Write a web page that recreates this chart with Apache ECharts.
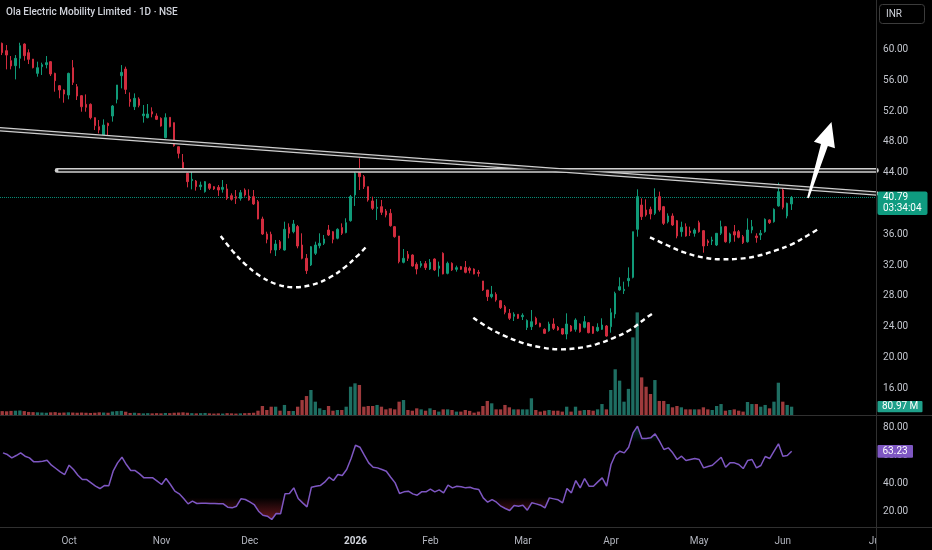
<!DOCTYPE html>
<html><head><meta charset="utf-8">
<script src="https://cdn.jsdelivr.net/npm/echarts@6/dist/echarts.min.js"></script>
<style>html,body{margin:0;padding:0;background:#000;}#c{width:932px;height:550px;}</style>
</head><body><div id="c"></div>
<script>
// [open, high, low, close] per daily bar
const candles = [
[60.80,60.90,59.28,59.59],[59.85,60.58,57.42,59.28],[58.55,59.15,57.42,57.86],[57.90,59.28,56.12,58.85],[58.85,60.88,57.55,60.50],
[60.71,60.80,58.55,59.20],[59.59,60.02,58.11,58.72],[58.76,58.76,57.55,57.64],[56.90,58.42,56.47,57.64],[57.77,58.29,56.69,58.03],
[58.03,59.15,57.55,58.29],[58.42,58.50,56.56,56.82],[56.90,56.99,54.52,55.95],[55.30,55.39,53.66,54.74],[54.74,54.82,53.09,54.22],
[54.09,56.99,53.53,56.90],[57.64,58.63,55.39,55.73],[55.17,55.52,53.44,53.96],[54.00,54.09,51.92,52.57],[52.88,54.17,51.92,52.49],
[52.88,53.00,50.93,51.15],[51.15,51.19,49.54,50.11],[49.98,50.84,49.11,49.54],[48.76,50.93,48.46,50.19],[50.41,50.50,48.59,50.11],
[51.36,52.79,50.63,52.66],[53.53,55.39,53.00,55.39],[56.60,57.98,54.95,57.03],[57.46,57.77,54.22,54.82],[53.53,54.43,52.57,53.22],
[52.57,54.30,52.14,53.66],[53.57,53.79,52.49,52.75],[51.40,52.79,50.50,51.62],[51.15,52.92,51.06,51.62],[51.92,52.49,51.19,51.62],
[51.36,51.71,50.84,50.93],[51.06,51.19,49.98,50.06],[48.55,51.71,48.46,51.15],[51.19,51.19,49.89,49.98],[50.50,50.50,47.38,47.51],
[47.38,47.38,45.86,46.51],[45.35,46.43,44.14,44.27],[43.92,44.01,42.10,42.84],[42.97,44.35,41.84,43.14],[42.92,43.05,41.67,42.19],
[42.19,42.84,41.75,42.40],[41.54,42.92,41.41,42.84],[42.53,42.62,41.75,41.97],[42.19,42.27,41.75,41.89],[42.10,42.40,40.98,41.75],
[41.84,43.05,41.41,42.10],[41.89,42.53,40.46,40.67],[41.02,41.32,40.37,40.54],[40.89,41.75,39.94,40.67],[40.67,41.75,40.37,41.41],
[41.75,41.97,40.89,41.11],[40.98,41.84,40.37,40.46],[40.89,41.75,39.81,39.94],[40.24,40.46,37.95,37.99],[37.99,38.29,35.91,36.04],
[36.04,36.34,34.83,35.35],[36.00,36.34,33.53,33.96],[33.96,35.26,33.18,34.74],[35.04,35.26,33.96,34.18],[33.96,37.64,33.88,36.65],
[36.91,37.42,35.48,36.13],[36.34,37.86,36.13,37.34],[37.00,37.21,34.18,34.48],[34.61,36.13,32.75,32.88],[32.88,33.44,30.85,31.28],
[32.02,34.48,31.88,34.39],[33.53,35.04,33.31,34.61],[34.52,36.13,34.18,34.83],[34.83,35.91,34.61,35.39],[36.56,37.21,35.78,35.91],
[36.34,36.43,34.83,35.35],[35.48,36.78,35.35,36.65],[36.87,37.42,35.91,36.13],[36.22,38.08,36.13,37.51],[37.77,41.11,37.64,40.89],
[41.11,44.27,39.68,43.92],[44.03,45.87,41.75,43.49],[43.49,43.70,41.89,42.19],[42.19,42.19,40.24,40.46],[40.33,40.89,39.16,39.37],
[39.37,40.59,37.86,39.50],[39.59,40.46,38.51,38.85],[39.03,39.29,38.20,38.51],[38.72,39.29,36.99,37.12],[36.99,37.08,35.56,35.69],
[35.78,35.78,32.23,32.45],[32.36,34.09,32.23,32.88],[33.40,33.83,32.53,32.88],[33.31,33.40,31.80,31.88],[32.10,32.36,30.80,31.49],
[31.93,32.53,31.67,32.19],[32.19,32.53,31.37,31.67],[31.49,32.79,31.37,32.36],[32.79,32.88,31.24,31.37],[31.58,32.45,30.50,31.88],
[33.53,33.66,30.80,30.85],[30.93,32.45,30.80,32.23],[32.23,32.36,31.24,31.37],[31.45,31.93,31.15,31.67],[31.80,31.88,31.37,31.45],
[31.71,32.53,30.93,31.06],[31.58,31.80,30.93,31.32],[31.49,31.58,30.80,30.85],[31.06,31.37,30.50,30.93],[29.94,29.94,28.64,28.77],
[28.77,28.77,27.34,27.90],[27.90,29.29,27.69,28.21],[28.21,28.47,27.25,27.47],[27.38,27.47,26.30,26.47],[26.60,26.82,25.61,25.87],
[25.74,26.30,24.87,25.09],[25.35,25.87,24.74,25.61],[25.61,25.61,25.00,25.09],[25.30,25.74,24.87,25.48],[23.90,24.95,23.57,24.80],
[24.00,26.17,23.57,24.65],[25.09,25.30,24.22,24.35],[24.44,24.52,23.92,24.00],[23.66,23.79,23.05,23.14],[23.48,24.65,23.35,24.35],
[24.35,25.09,23.57,23.79],[23.92,24.09,23.48,23.57],[23.74,23.83,22.96,23.05],[23.05,25.74,22.36,24.35],[24.09,24.22,23.35,23.44],
[23.66,25.09,23.35,24.87],[24.35,24.44,23.22,23.35],[23.92,25.39,23.79,24.65],[24.52,24.61,23.14,23.22],[24.00,24.09,23.05,23.14],
[23.48,24.44,23.35,23.92],[23.66,25.09,23.57,24.22],[24.09,24.22,22.70,22.79],[24.00,26.39,23.22,25.82],[25.65,28.55,25.09,28.33],
[28.77,30.41,28.68,29.20],[28.68,29.85,28.25,28.85],[29.98,31.71,29.20,30.28],[30.41,36.34,30.28,36.34],[36.65,41.84,35.69,40.89],
[39.80,40.67,37.86,38.29],[39.16,40.54,38.29,38.51],[39.24,39.59,37.94,38.64],[38.72,41.97,38.51,40.80],[40.89,41.54,38.94,39.16],
[39.59,39.68,37.21,37.42],[37.64,38.72,37.42,38.38],[38.38,38.72,37.08,37.21],[37.77,37.86,35.48,35.78],[36.34,37.64,35.69,36.91],
[36.99,37.42,35.69,35.78],[36.43,36.99,35.78,36.21],[36.13,36.78,35.69,36.56],[37.51,37.77,36.21,36.34],[36.47,36.56,33.61,34.48],
[35.13,35.35,34.48,34.91],[35.13,35.69,34.61,35.26],[34.61,36.13,34.48,36.13],[36.13,37.77,35.91,36.99],[36.99,37.08,34.91,35.04],
[35.04,36.21,34.83,36.04],[36.34,37.21,35.04,35.91],[36.34,36.56,35.48,35.61],[35.69,35.91,34.74,34.91],[35.04,38.07,34.91,36.56],
[36.56,37.86,36.13,36.99],[35.78,36.13,34.91,35.56],[35.91,36.56,35.26,36.13],[36.34,38.07,36.21,37.94],[37.86,37.94,37.34,37.51],
[37.64,39.37,37.51,39.24],[39.68,42.70,39.59,41.54],[41.75,41.97,39.24,39.50],[38.38,40.11,38.07,40.02],[39.94,40.97,39.16,40.79]
];
// volume in millions
const volumes = [
38,36,40,42,44,38,30,28,26,24,22,26,28,22,24,26,24,22,24,22,
20,22,26,24,22,34,38,40,32,20,22,18,16,18,16,18,16,20,18,22,
24,26,22,18,16,18,20,16,14,16,14,18,16,14,16,18,20,22,42,88,
49,81,81,42,98,39,39,81,146,185,244,130,65,49,88,42,49,49,81,276,
309,293,81,88,88,98,81,55,65,55,130,146,49,42,65,55,42,65,49,33,
55,55,49,33,33,49,40,23,33,88,137,114,55,55,98,75,55,55,55,55,
163,49,33,42,49,42,42,33,81,33,81,42,49,49,42,55,107,55,244,446,
335,130,255,757,1001,367,276,205,341,137,137,107,75,88,75,55,55,55,55,75,
55,49,88,107,42,49,55,42,33,127,107,107,81,98,65,130,315,130,98,80.97
];
// RSI (14)
const rsi = [
62.11,60.91,58.52,60.20,62.11,59.72,58.52,55.66,55.66,56.13,56.85,53.27,50.88,48.49,46.58,53.27,50.16,46.10,42.99,42.99,
40.60,38.21,36.54,38.69,38.45,48.97,54.94,59.00,53.75,49.44,49.44,47.05,44.19,44.19,44.19,41.80,39.41,43.71,39.41,34.63,
32.72,29.37,25.55,27.46,25.79,26.03,26.03,25.79,25.79,25.55,25.55,23.16,22.68,23.88,29.13,28.66,26.98,25.07,20.29,17.42,
16.71,14.32,18.62,18.38,32.72,32.96,37.02,29.37,26.27,23.40,37.50,38.21,38.69,41.08,44.66,42.28,46.58,45.86,50.16,58.05,
67.60,66.17,60.44,54.94,51.83,51.35,50.16,48.97,44.66,40.60,32.96,34.15,34.63,32.72,31.76,34.15,34.15,36.06,34.15,35.58,
33.43,38.93,37.02,38.21,37.74,37.02,37.50,36.30,35.82,29.85,26.74,28.65,26.74,23.88,22.20,20.77,24.35,23.88,24.59,21.01,
26.27,25.55,24.59,22.68,29.85,29.13,28.42,26.27,36.54,33.43,42.28,37.02,43.71,38.21,38.21,41.32,44.19,38.21,53.75,60.91,
63.30,62.11,66.17,76.44,81.22,72.38,72.38,72.86,75.73,70.47,64.50,65.69,62.11,57.33,59.72,56.61,57.33,58.05,57.33,51.35,
52.31,53.27,56.13,59.00,51.83,54.94,54.94,53.75,50.88,56.61,57.33,51.35,53.03,59.48,58.05,63.30,68.56,59.72,60.20,63.23
];
const monthLabels = {15:'Oct',36:'Nov',56:'Dec',80:'2026',97:'Feb',118:'Mar',138:'Apr',158:'May',177:'Jun',198:'Jul'};
const title = 'Ola Electric Mobility Limited · 1D · NSE';
const lastPrice = 40.79, lastVolume = 80.97, lastRsi = 63.23, countdown = '03:34:04';
// drawings in (bar position, price)
const trendLine = [[0,49.654],[198.68,41.307]];
const levelLine = [[13.32,44.30],[198.68,44.30]];
const levelInner = [[13.62,44.30],[198.68,44.30]];
const arc1 = [[50.35,35.78],[52.97,33.87],[55.91,32.10],[59.17,30.62],[62.85,29.55],[66.99,29.12],[71.07,29.45],[74.91,30.36],[78.39,31.71],[81.47,33.31],[83.1,34.29]];
const arc2 = [[107.48,25.17],[111.03,23.83],[114.81,22.75],[118.73,21.88],[122.8,21.32],[127.09,21.06],[131.23,21.23],[135.24,21.71],[139.15,22.53],[142.93,23.57],[146.32,25.04],[148.58,25.91]];
const arc3 = [[147.45,35.61],[151.23,34.61],[155.37,33.61],[159.37,33.01],[163.44,32.75],[167.65,32.83],[171.72,33.18],[175.73,33.87],[179.5,34.70],[183.26,35.91],[185.34,36.62]];
const arrow = [183.19,40.71,188.5,50.58];

const N = 199;
const cats = Array.from({length:N}, (_, i) => monthLabels[i] || '');
const GL = 0, GR = 932 - 877.6;
const UP = '#109a78', DN = '#d12c3e', VUP = '#1e6e62', VDN = '#9e3a3c';
const FONT = 'Roboto, "Noto Sans", sans-serif';
const candleData = candles.map(c => [c[0], c[3], c[2], c[1]]);
const volData = volumes.map((v, i) => ({value: v, itemStyle: {color: candles[i][3] >= candles[i][0] ? VUP : VDN}}));
const rsiLow = rsi.map(r => Math.min(r, 30));
const rsiHigh = rsi.map(r => Math.max(r, 70));

const chart = echarts.init(document.getElementById('c'));
function dbl(data, outerW, innerW, innerData) {
  return [
    {type:'line', xAxisIndex:1, yAxisIndex:0, data:data, symbol:'none', silent:true, z:10,
     lineStyle:{color:'#cfcfcf', width:outerW, cap:'round'}},
    {type:'line', xAxisIndex:1, yAxisIndex:0, data:innerData || data, symbol:'none', silent:true, z:11,
     lineStyle:{color:'#161616', width:innerW}}
  ];
}
function arcSeries(data) {
  return {type:'line', xAxisIndex:1, yAxisIndex:0, data:data, symbol:'none', smooth:0.4, silent:true, z:12,
    lineStyle:{color:'#ffffff', width:2.4, type:[5,3.6]}};
}
const option = {
  backgroundColor:'#000000',
  animation:false,
  title:{text:title, left:6, top:7, padding:0, textStyle:{color:'#d1d4dc', fontSize:10, fontWeight:500, fontFamily:FONT}},
  grid:[
    {left:GL, right:GR, top:0, height:419.1},
    {left:GL, right:GR, top:210, height:205},
    {left:GL, right:GR, top:400, height:139.5}
  ],
  xAxis:[
    {type:'category', gridIndex:0, data:cats, show:false},
    {type:'value', gridIndex:0, min:0.4252, max:198.93, show:false},
    {type:'category', gridIndex:1, data:cats, show:false},
    {type:'category', gridIndex:2, data:cats, position:'bottom', offset:-12.5,
     axisLine:{show:false}, axisTick:{show:false}, splitLine:{show:false},
     axisLabel:{interval:0, margin:9, color:'#b2b5be', fontSize:10, fontFamily:FONT,
       formatter: v => v === '2026' ? '{b|2026}' : v,
       rich:{b:{fontWeight:'bold', color:'#d1d4dc', fontSize:10, fontFamily:FONT}}}}
  ],
  yAxis:[
    {type:'value', gridIndex:0, position:'right', min:12, max:66.4286, interval:4,
     axisLine:{show:false}, axisTick:{show:false}, splitLine:{show:false},
     axisLabel:{margin:5.5, color:'#c3c6ce', fontSize:10, fontFamily:FONT, showMaxLabel:false,
       formatter: v => (v >= 16 && v <= 60) ? v.toFixed(2) : ''}},
    {type:'value', gridIndex:1, min:0, max:2000, show:false},
    {type:'value', gridIndex:2, position:'right', min:0, max:100, interval:20,
     axisLine:{show:false}, axisTick:{show:false}, splitLine:{show:false},
     axisLabel:{margin:5.5, color:'#c3c6ce', fontSize:10, fontFamily:FONT,
       formatter: v => (v >= 20 && v <= 80) ? v.toFixed(2) : ''}}
  ],
  series:[
    {type:'bar', xAxisIndex:2, yAxisIndex:1, data:volData, barWidth:'75%', silent:true, z:1},
    {type:'candlestick', xAxisIndex:0, yAxisIndex:0, data:candleData, barWidth:2, z:5,
     itemStyle:{color:UP, color0:DN, borderColor:UP, borderColor0:DN, borderWidth:1},
     markLine:{silent:true, symbol:'none', label:{show:false},
       lineStyle:{color:'#089981', type:'dotted', width:1, opacity:0.9}, data:[{yAxis:lastPrice}]}},
    ...dbl(trendLine, 4.6, 1.9),
    ...dbl(levelLine, 4.6, 1.9, levelInner),
    arcSeries(arc1), arcSeries(arc2), arcSeries(arc3),
    {type:'custom', xAxisIndex:1, yAxisIndex:0, data:[arrow], silent:true, z:13,
     encode:{x:[0,2], y:[1,3]},
     renderItem:(params, api) => {
       const a = api.coord([api.value(0), api.value(1)]);
       const b = api.coord([api.value(2), api.value(3)]);
       const dx = b[0]-a[0], dy = b[1]-a[1], len = Math.hypot(dx, dy);
       const ux = dx/len, uy = dy/len, nx = -uy, ny = ux;
       const hl = 24, hw = 11, s0 = 1, s1 = 3.6;
       const bx = b[0]-ux*hl, by = b[1]-uy*hl;
       const pts = [[a[0]+nx*s0, a[1]+ny*s0],[bx+nx*s1, by+ny*s1],[bx+nx*hw, by+ny*hw],b,
                    [bx-nx*hw, by-ny*hw],[bx-nx*s1, by-ny*s1],[a[0]-nx*s0, a[1]-ny*s0]];
       return {type:'polygon', shape:{points:pts}, style:{fill:'#ffffff'}};
     }},
    {type:'line', xAxisIndex:3, yAxisIndex:2, data:rsiLow, symbol:'none', silent:true, z:2,
     lineStyle:{width:0, opacity:0},
     areaStyle:{origin:30, color:new echarts.graphic.LinearGradient(0,0,0,1,[
       {offset:0, color:'rgba(242,54,69,0)'},{offset:1, color:'rgba(242,54,69,0.6)'}])}},
    {type:'line', xAxisIndex:3, yAxisIndex:2, data:rsiHigh, symbol:'none', silent:true, z:2,
     lineStyle:{width:0, opacity:0},
     areaStyle:{origin:70, color:new echarts.graphic.LinearGradient(0,0,0,1,[
       {offset:0, color:'rgba(8,153,129,0.5)'},{offset:1, color:'rgba(8,153,129,0)'}])}},
    {type:'line', xAxisIndex:3, yAxisIndex:2, data:rsi, symbol:'none', silent:true, z:3,
     lineStyle:{color:'#7e57c2', width:1.5}}
  ]
};
chart.setOption(option);

const py = chart.convertToPixel({yAxisIndex:0}, lastPrice);
const vy = chart.convertToPixel({yAxisIndex:1}, lastVolume);
const ry = chart.convertToPixel({yAxisIndex:2}, lastRsi);
const SEP = '#303030';
chart.setOption({graphic:[
  {type:'rect', z:90, shape:{x:877, y:528, width:55, height:22}, style:{fill:'#000'}},
  {type:'line', z:100, shape:{x1:0, y1:415.5, x2:932, y2:415.5}, style:{stroke:SEP, lineWidth:1}},
  {type:'line', z:100, shape:{x1:0, y1:527.5, x2:932, y2:527.5}, style:{stroke:SEP, lineWidth:1}},
  {type:'line', z:100, shape:{x1:876.5, y1:0, x2:876.5, y2:550}, style:{stroke:SEP, lineWidth:1}},
  {type:'rect', z:101, shape:{x:879.5, y:4.5, width:45, height:19, r:3}, style:{fill:'#000', stroke:'#3c3c3c', lineWidth:1}},
  {type:'text', z:102, style:{text:'INR', x:886, y:14, fill:'#d1d4dc', font:'10px '+FONT, textVerticalAlign:'middle'}},
  {type:'rect', z:101, shape:{x:877.5, y:py-5.8, width:50, height:23.3, r:2}, style:{fill:'#0f9b80'}},
  {type:'text', z:102, style:{text:lastPrice.toFixed(2), x:883, y:py, fill:'#fff', font:'10px '+FONT, textVerticalAlign:'middle'}},
  {type:'text', z:102, style:{text:countdown, x:883, y:py+11.3, fill:'#fff', font:'10px '+FONT, textVerticalAlign:'middle'}},
  {type:'rect', z:101, shape:{x:877.5, y:vy-5.8, width:45, height:11.4, r:1}, style:{fill:'#1fa08a'}},
  {type:'text', z:102, style:{text:lastVolume.toFixed(2)+' M', x:882, y:vy, fill:'#fff', font:'10px '+FONT, textVerticalAlign:'middle'}},
  {type:'rect', z:101, shape:{x:877.5, y:ry-6.4, width:35.5, height:12.8, r:1}, style:{fill:'#7e57c2'}},
  {type:'text', z:102, style:{text:lastRsi.toFixed(2), x:882.5, y:ry, fill:'#fff', font:'10px '+FONT, textVerticalAlign:'middle'}}
]});
</script></body></html>
